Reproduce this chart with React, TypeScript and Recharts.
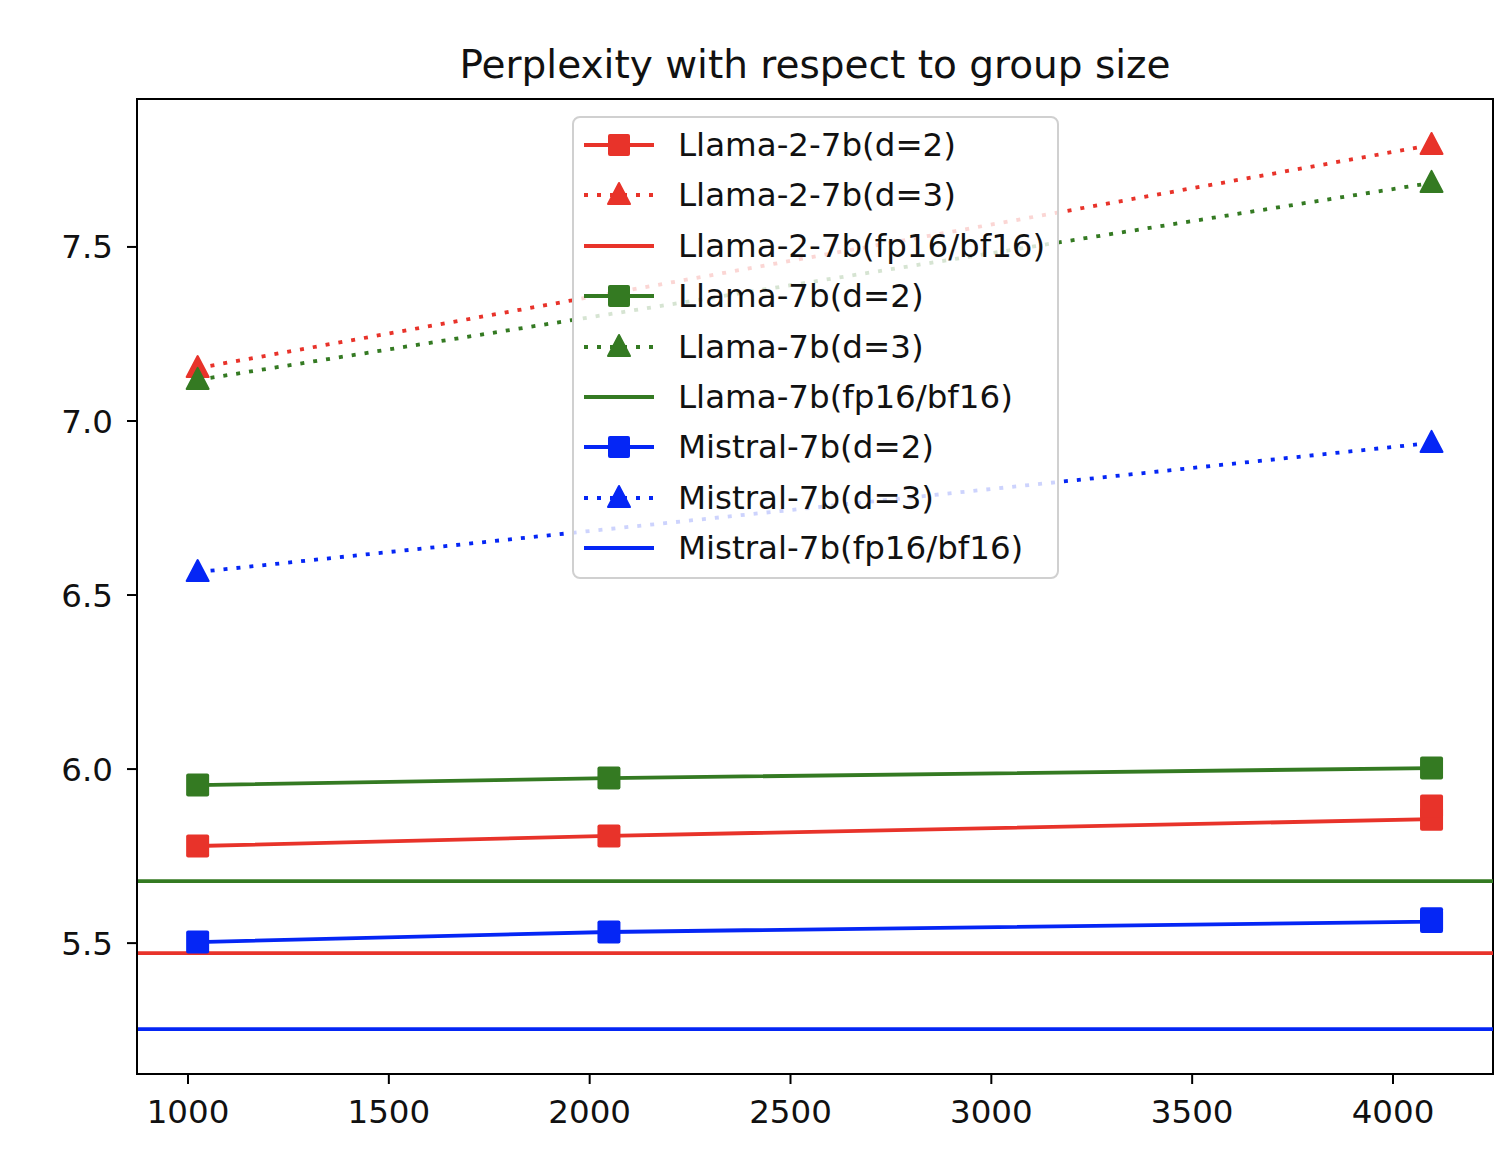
import React from 'react'
import {
  LineChart, Line, XAxis, YAxis, ReferenceLine, ReferenceArea,
} from 'recharts'

// group size (x) and perplexity values
const groupSizes = [1024, 2048, 4096]
const groupSizesD3 = [1024, 4096]

const llama2D2 = [5.779, 5.808, 5.856, 5.894]
const llama2D2X = [1024, 2048, 4096, 4096]
const llama2D3 = [7.152, 7.793]
const llama2Fp16 = 5.471

const llamaD2 = [5.954, 5.974, 6.003]
const llamaD3 = [7.118, 7.684]
const llamaFp16 = 5.678

const mistralD2 = [5.503, 5.532, 5.562, 5.570]
const mistralD2X = [1024, 2048, 4096, 4096]
const mistralD3 = [6.566, 6.937]
const mistralFp16 = 5.253

const xTicks = [1000, 1500, 2000, 2500, 3000, 3500, 4000]
const yTicks = [5.5, 6.0, 6.5, 7.0, 7.5]

const RED = '#e8332a'
const GREEN = '#347a22'
const BLUE = '#0526f5'
const FONT = '"DejaVu Sans", sans-serif'
const DOTTED = '4 9'
const TXT = 32.5
const LW = 3.8

const toRows = (xs: number[], ys: number[]) => xs.map((x, i) => ({ x, y: ys[i] }))

const squareDot = (color: string) => (props: any) => {
  const { cx, cy, index } = props
  return <rect key={index} x={cx - 11.5} y={cy - 11.5} width={23} height={23} rx={2} fill={color} />
}

const triDot = (color: string) => (props: any) => {
  const { cx, cy, index } = props
  return (
    <polygon key={index} fill={color} stroke={color} strokeWidth={2} strokeLinejoin="round"
      points={`${cx},${cy - 12} ${cx + 11},${cy + 9} ${cx - 11},${cy + 9}`} />
  )
}

const legendItems = [
  { label: 'Llama-2-7b(d=2)', color: RED, kind: 'square' },
  { label: 'Llama-2-7b(d=3)', color: RED, kind: 'tri' },
  { label: 'Llama-2-7b(fp16/bf16)', color: RED, kind: 'plain' },
  { label: 'Llama-7b(d=2)', color: GREEN, kind: 'square' },
  { label: 'Llama-7b(d=3)', color: GREEN, kind: 'tri' },
  { label: 'Llama-7b(fp16/bf16)', color: GREEN, kind: 'plain' },
  { label: 'Mistral-7b(d=2)', color: BLUE, kind: 'square' },
  { label: 'Mistral-7b(d=3)', color: BLUE, kind: 'tri' },
  { label: 'Mistral-7b(fp16/bf16)', color: BLUE, kind: 'plain' },
]

function LegendBox() {
  return (
    <div style={{
      position: 'absolute', left: 572, top: 116, width: 487, height: 463,
      boxSizing: 'border-box', border: '2px solid #d0d0d0',
      borderRadius: 8, background: 'rgba(255,255,255,0.8)',
    }}>
      {legendItems.map((it, i) => {
        const top = 27 + i * 50.4
        return (
          <div key={it.label} style={{ position: 'absolute', left: 0, top: top - 20, height: 40, width: '100%' }}>
            <svg width={90} height={40} style={{ position: 'absolute', left: 8, top: 0 }}>
              <line x1={2} x2={72} y1={20} y2={20} stroke={it.color} strokeWidth={LW}
                strokeDasharray={it.kind === 'tri' ? DOTTED : undefined} />
              {it.kind === 'square' && <rect x={26} y={9} width={22} height={22} rx={2} fill={it.color} />}
              {it.kind === 'tri' && (
                <polygon points="37,8 48,29 26,29" fill={it.color} stroke={it.color}
                  strokeWidth={2} strokeLinejoin="round" />
              )}
            </svg>
            <span style={{
              position: 'absolute', left: 104, top: 0, lineHeight: '40px', fontSize: TXT,
              fontFamily: FONT, color: '#111', whiteSpace: 'nowrap',
            }}>{it.label}</span>
          </div>
        )
      })}
    </div>
  )
}

export default function App() {
  const tickStyle = { fontSize: TXT, fill: '#111', fontFamily: FONT }
  return (
    <div style={{ position: 'absolute', left: 0, top: 0, width: 1504, height: 1168, background: '#fff' }}>
      <div style={{
        position: 'absolute', left: 137, width: 1356, top: 40, textAlign: 'center',
        fontFamily: FONT, fontSize: 39, color: '#111', lineHeight: '50px',
      }}>
        Perplexity with respect to group size
      </div>
      <LineChart width={1504} height={1168} margin={{ top: 99, right: 11, bottom: 0, left: 0 }}>
        <XAxis dataKey="x" type="number" domain={[873, 4249]} ticks={xTicks} allowDataOverflow
          height={94} tickSize={10} tickMargin={16} tick={tickStyle}
          axisLine={{ stroke: '#000', strokeWidth: 2 }} tickLine={{ stroke: '#000', strokeWidth: 2 }} />
        <YAxis dataKey="y" type="number" domain={[5.124, 7.925]} ticks={yTicks} allowDataOverflow
          width={137} tickSize={10} tickMargin={14} tick={tickStyle}
          tickFormatter={(v: number) => v.toFixed(1)}
          axisLine={{ stroke: '#000', strokeWidth: 2 }} tickLine={{ stroke: '#000', strokeWidth: 2 }} />
        <ReferenceArea x1={873} x2={4249} y1={5.124} y2={7.925} fill="none" fillOpacity={0}
          stroke="#000" strokeWidth={2} />

        <Line data={toRows(llama2D2X, llama2D2)} dataKey="y" stroke={RED} strokeWidth={LW}
          dot={squareDot(RED)} isAnimationActive={false} />
        <Line data={toRows(groupSizesD3, llama2D3)} dataKey="y" stroke={RED} strokeWidth={LW}
          strokeDasharray={DOTTED} dot={triDot(RED)} isAnimationActive={false} />
        <ReferenceLine y={llama2Fp16} stroke={RED} strokeWidth={LW} />

        <Line data={toRows(groupSizes, llamaD2)} dataKey="y" stroke={GREEN} strokeWidth={LW}
          dot={squareDot(GREEN)} isAnimationActive={false} />
        <Line data={toRows(groupSizesD3, llamaD3)} dataKey="y" stroke={GREEN} strokeWidth={LW}
          strokeDasharray={DOTTED} dot={triDot(GREEN)} isAnimationActive={false} />
        <ReferenceLine y={llamaFp16} stroke={GREEN} strokeWidth={LW} />

        <Line data={toRows(mistralD2X, mistralD2)} dataKey="y" stroke={BLUE} strokeWidth={LW}
          dot={squareDot(BLUE)} isAnimationActive={false} />
        <Line data={toRows(groupSizesD3, mistralD3)} dataKey="y" stroke={BLUE} strokeWidth={LW}
          strokeDasharray={DOTTED} dot={triDot(BLUE)} isAnimationActive={false} />
        <ReferenceLine y={mistralFp16} stroke={BLUE} strokeWidth={LW} />
      </LineChart>
      <LegendBox />
    </div>
  )
}
